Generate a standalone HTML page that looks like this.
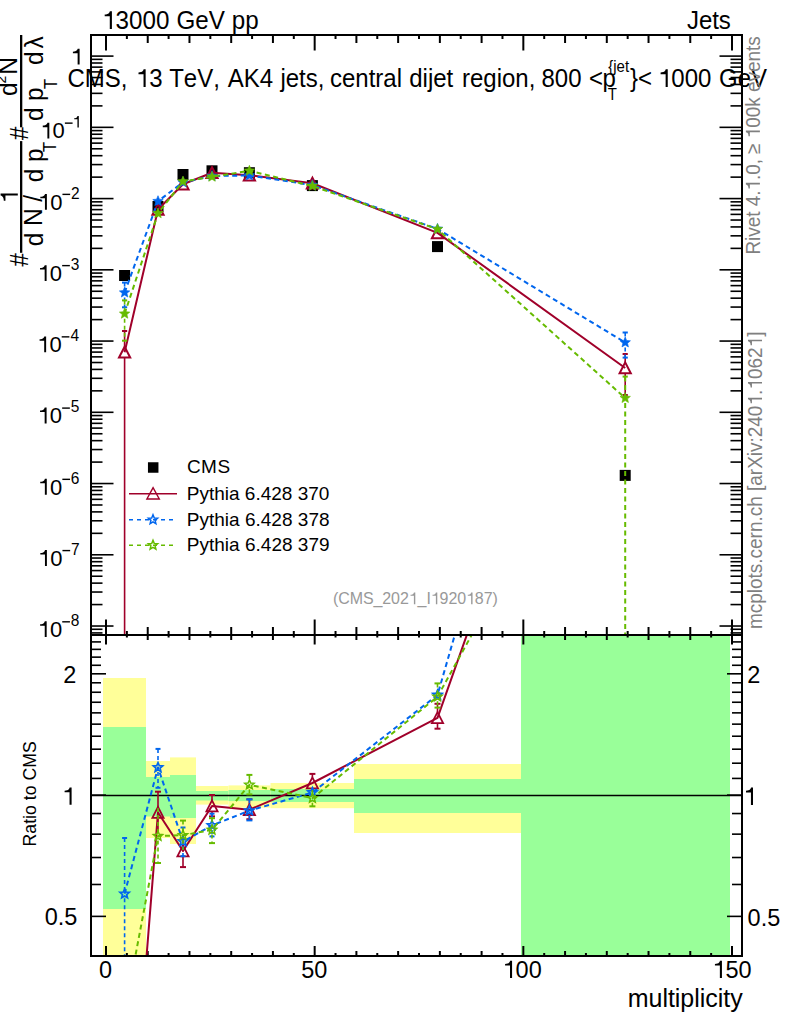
<!DOCTYPE html>
<html><head><meta charset="utf-8"><title>plot</title>
<style>html,body{margin:0;padding:0;background:#fff;width:786px;height:1024px;overflow:hidden}</style>
</head><body>
<svg width="786" height="1024" viewBox="0 0 786 1024" style="position:absolute;left:0;top:0;font-family:'Liberation Sans',sans-serif;font-kerning:none">
<defs><clipPath id="cm"><rect x="91" y="35" width="651" height="600"/></clipPath>
<clipPath id="cr"><rect x="91" y="635" width="651" height="321"/></clipPath></defs>
<rect x="103.00" y="678.00" width="43.00" height="278.00" fill="#ffff99"/>
<rect x="103.00" y="727.00" width="43.00" height="182.00" fill="#99ff99"/>
<rect x="146.00" y="761.00" width="24.00" height="77.00" fill="#ffff99"/>
<rect x="146.00" y="777.00" width="24.00" height="39.50" fill="#99ff99"/>
<rect x="170.00" y="757.40" width="26.00" height="86.60" fill="#ffff99"/>
<rect x="170.00" y="775.00" width="26.00" height="43.00" fill="#99ff99"/>
<rect x="196.00" y="786.00" width="32.50" height="18.60" fill="#ffff99"/>
<rect x="196.00" y="791.00" width="32.50" height="9.50" fill="#99ff99"/>
<rect x="228.50" y="785.40" width="42.00" height="22.30" fill="#ffff99"/>
<rect x="228.50" y="790.00" width="42.00" height="11.10" fill="#99ff99"/>
<rect x="270.50" y="783.00" width="83.50" height="25.20" fill="#ffff99"/>
<rect x="270.50" y="789.00" width="83.50" height="13.00" fill="#99ff99"/>
<rect x="354.00" y="764.00" width="167.00" height="69.00" fill="#ffff99"/>
<rect x="354.00" y="779.00" width="167.00" height="34.00" fill="#99ff99"/>
<rect x="521.00" y="635.00" width="209.00" height="321.00" fill="#ffff99"/>
<rect x="521.00" y="635.00" width="209.00" height="321.00" fill="#99ff99"/>
<line x1="91.00" y1="795.50" x2="742.00" y2="795.50" stroke="#000" stroke-width="1.60"/>
<line x1="106.00" y1="35.00" x2="106.00" y2="50.50" stroke="#000" stroke-width="2.00"/>
<line x1="106.00" y1="635.00" x2="106.00" y2="619.50" stroke="#000" stroke-width="2.00"/>
<line x1="106.00" y1="635.00" x2="106.00" y2="644.50" stroke="#000" stroke-width="2.00"/>
<line x1="106.00" y1="956.00" x2="106.00" y2="946.00" stroke="#000" stroke-width="2.00"/>
<line x1="126.87" y1="35.00" x2="126.87" y2="39.00" stroke="#000" stroke-width="2.00"/>
<line x1="126.87" y1="635.00" x2="126.87" y2="631.00" stroke="#000" stroke-width="2.00"/>
<line x1="126.87" y1="635.00" x2="126.87" y2="637.50" stroke="#000" stroke-width="2.00"/>
<line x1="126.87" y1="956.00" x2="126.87" y2="953.00" stroke="#000" stroke-width="2.00"/>
<line x1="147.73" y1="35.00" x2="147.73" y2="43.00" stroke="#000" stroke-width="2.00"/>
<line x1="147.73" y1="635.00" x2="147.73" y2="627.00" stroke="#000" stroke-width="2.00"/>
<line x1="147.73" y1="635.00" x2="147.73" y2="640.00" stroke="#000" stroke-width="2.00"/>
<line x1="147.73" y1="956.00" x2="147.73" y2="951.00" stroke="#000" stroke-width="2.00"/>
<line x1="168.60" y1="35.00" x2="168.60" y2="39.00" stroke="#000" stroke-width="2.00"/>
<line x1="168.60" y1="635.00" x2="168.60" y2="631.00" stroke="#000" stroke-width="2.00"/>
<line x1="168.60" y1="635.00" x2="168.60" y2="637.50" stroke="#000" stroke-width="2.00"/>
<line x1="168.60" y1="956.00" x2="168.60" y2="953.00" stroke="#000" stroke-width="2.00"/>
<line x1="189.47" y1="35.00" x2="189.47" y2="43.00" stroke="#000" stroke-width="2.00"/>
<line x1="189.47" y1="635.00" x2="189.47" y2="627.00" stroke="#000" stroke-width="2.00"/>
<line x1="189.47" y1="635.00" x2="189.47" y2="640.00" stroke="#000" stroke-width="2.00"/>
<line x1="189.47" y1="956.00" x2="189.47" y2="951.00" stroke="#000" stroke-width="2.00"/>
<line x1="210.33" y1="35.00" x2="210.33" y2="39.00" stroke="#000" stroke-width="2.00"/>
<line x1="210.33" y1="635.00" x2="210.33" y2="631.00" stroke="#000" stroke-width="2.00"/>
<line x1="210.33" y1="635.00" x2="210.33" y2="637.50" stroke="#000" stroke-width="2.00"/>
<line x1="210.33" y1="956.00" x2="210.33" y2="953.00" stroke="#000" stroke-width="2.00"/>
<line x1="231.20" y1="35.00" x2="231.20" y2="43.00" stroke="#000" stroke-width="2.00"/>
<line x1="231.20" y1="635.00" x2="231.20" y2="627.00" stroke="#000" stroke-width="2.00"/>
<line x1="231.20" y1="635.00" x2="231.20" y2="640.00" stroke="#000" stroke-width="2.00"/>
<line x1="231.20" y1="956.00" x2="231.20" y2="951.00" stroke="#000" stroke-width="2.00"/>
<line x1="252.07" y1="35.00" x2="252.07" y2="39.00" stroke="#000" stroke-width="2.00"/>
<line x1="252.07" y1="635.00" x2="252.07" y2="631.00" stroke="#000" stroke-width="2.00"/>
<line x1="252.07" y1="635.00" x2="252.07" y2="637.50" stroke="#000" stroke-width="2.00"/>
<line x1="252.07" y1="956.00" x2="252.07" y2="953.00" stroke="#000" stroke-width="2.00"/>
<line x1="272.93" y1="35.00" x2="272.93" y2="43.00" stroke="#000" stroke-width="2.00"/>
<line x1="272.93" y1="635.00" x2="272.93" y2="627.00" stroke="#000" stroke-width="2.00"/>
<line x1="272.93" y1="635.00" x2="272.93" y2="640.00" stroke="#000" stroke-width="2.00"/>
<line x1="272.93" y1="956.00" x2="272.93" y2="951.00" stroke="#000" stroke-width="2.00"/>
<line x1="293.80" y1="35.00" x2="293.80" y2="39.00" stroke="#000" stroke-width="2.00"/>
<line x1="293.80" y1="635.00" x2="293.80" y2="631.00" stroke="#000" stroke-width="2.00"/>
<line x1="293.80" y1="635.00" x2="293.80" y2="637.50" stroke="#000" stroke-width="2.00"/>
<line x1="293.80" y1="956.00" x2="293.80" y2="953.00" stroke="#000" stroke-width="2.00"/>
<line x1="314.67" y1="35.00" x2="314.67" y2="50.50" stroke="#000" stroke-width="2.00"/>
<line x1="314.67" y1="635.00" x2="314.67" y2="619.50" stroke="#000" stroke-width="2.00"/>
<line x1="314.67" y1="635.00" x2="314.67" y2="644.50" stroke="#000" stroke-width="2.00"/>
<line x1="314.67" y1="956.00" x2="314.67" y2="946.00" stroke="#000" stroke-width="2.00"/>
<line x1="335.53" y1="35.00" x2="335.53" y2="39.00" stroke="#000" stroke-width="2.00"/>
<line x1="335.53" y1="635.00" x2="335.53" y2="631.00" stroke="#000" stroke-width="2.00"/>
<line x1="335.53" y1="635.00" x2="335.53" y2="637.50" stroke="#000" stroke-width="2.00"/>
<line x1="335.53" y1="956.00" x2="335.53" y2="953.00" stroke="#000" stroke-width="2.00"/>
<line x1="356.40" y1="35.00" x2="356.40" y2="43.00" stroke="#000" stroke-width="2.00"/>
<line x1="356.40" y1="635.00" x2="356.40" y2="627.00" stroke="#000" stroke-width="2.00"/>
<line x1="356.40" y1="635.00" x2="356.40" y2="640.00" stroke="#000" stroke-width="2.00"/>
<line x1="356.40" y1="956.00" x2="356.40" y2="951.00" stroke="#000" stroke-width="2.00"/>
<line x1="377.27" y1="35.00" x2="377.27" y2="39.00" stroke="#000" stroke-width="2.00"/>
<line x1="377.27" y1="635.00" x2="377.27" y2="631.00" stroke="#000" stroke-width="2.00"/>
<line x1="377.27" y1="635.00" x2="377.27" y2="637.50" stroke="#000" stroke-width="2.00"/>
<line x1="377.27" y1="956.00" x2="377.27" y2="953.00" stroke="#000" stroke-width="2.00"/>
<line x1="398.13" y1="35.00" x2="398.13" y2="43.00" stroke="#000" stroke-width="2.00"/>
<line x1="398.13" y1="635.00" x2="398.13" y2="627.00" stroke="#000" stroke-width="2.00"/>
<line x1="398.13" y1="635.00" x2="398.13" y2="640.00" stroke="#000" stroke-width="2.00"/>
<line x1="398.13" y1="956.00" x2="398.13" y2="951.00" stroke="#000" stroke-width="2.00"/>
<line x1="419.00" y1="35.00" x2="419.00" y2="39.00" stroke="#000" stroke-width="2.00"/>
<line x1="419.00" y1="635.00" x2="419.00" y2="631.00" stroke="#000" stroke-width="2.00"/>
<line x1="419.00" y1="635.00" x2="419.00" y2="637.50" stroke="#000" stroke-width="2.00"/>
<line x1="419.00" y1="956.00" x2="419.00" y2="953.00" stroke="#000" stroke-width="2.00"/>
<line x1="439.87" y1="35.00" x2="439.87" y2="43.00" stroke="#000" stroke-width="2.00"/>
<line x1="439.87" y1="635.00" x2="439.87" y2="627.00" stroke="#000" stroke-width="2.00"/>
<line x1="439.87" y1="635.00" x2="439.87" y2="640.00" stroke="#000" stroke-width="2.00"/>
<line x1="439.87" y1="956.00" x2="439.87" y2="951.00" stroke="#000" stroke-width="2.00"/>
<line x1="460.73" y1="35.00" x2="460.73" y2="39.00" stroke="#000" stroke-width="2.00"/>
<line x1="460.73" y1="635.00" x2="460.73" y2="631.00" stroke="#000" stroke-width="2.00"/>
<line x1="460.73" y1="635.00" x2="460.73" y2="637.50" stroke="#000" stroke-width="2.00"/>
<line x1="460.73" y1="956.00" x2="460.73" y2="953.00" stroke="#000" stroke-width="2.00"/>
<line x1="481.60" y1="35.00" x2="481.60" y2="43.00" stroke="#000" stroke-width="2.00"/>
<line x1="481.60" y1="635.00" x2="481.60" y2="627.00" stroke="#000" stroke-width="2.00"/>
<line x1="481.60" y1="635.00" x2="481.60" y2="640.00" stroke="#000" stroke-width="2.00"/>
<line x1="481.60" y1="956.00" x2="481.60" y2="951.00" stroke="#000" stroke-width="2.00"/>
<line x1="502.47" y1="35.00" x2="502.47" y2="39.00" stroke="#000" stroke-width="2.00"/>
<line x1="502.47" y1="635.00" x2="502.47" y2="631.00" stroke="#000" stroke-width="2.00"/>
<line x1="502.47" y1="635.00" x2="502.47" y2="637.50" stroke="#000" stroke-width="2.00"/>
<line x1="502.47" y1="956.00" x2="502.47" y2="953.00" stroke="#000" stroke-width="2.00"/>
<line x1="523.33" y1="35.00" x2="523.33" y2="50.50" stroke="#000" stroke-width="2.00"/>
<line x1="523.33" y1="635.00" x2="523.33" y2="619.50" stroke="#000" stroke-width="2.00"/>
<line x1="523.33" y1="635.00" x2="523.33" y2="644.50" stroke="#000" stroke-width="2.00"/>
<line x1="523.33" y1="956.00" x2="523.33" y2="946.00" stroke="#000" stroke-width="2.00"/>
<line x1="544.20" y1="35.00" x2="544.20" y2="39.00" stroke="#000" stroke-width="2.00"/>
<line x1="544.20" y1="635.00" x2="544.20" y2="631.00" stroke="#000" stroke-width="2.00"/>
<line x1="544.20" y1="635.00" x2="544.20" y2="637.50" stroke="#000" stroke-width="2.00"/>
<line x1="544.20" y1="956.00" x2="544.20" y2="953.00" stroke="#000" stroke-width="2.00"/>
<line x1="565.07" y1="35.00" x2="565.07" y2="43.00" stroke="#000" stroke-width="2.00"/>
<line x1="565.07" y1="635.00" x2="565.07" y2="627.00" stroke="#000" stroke-width="2.00"/>
<line x1="565.07" y1="635.00" x2="565.07" y2="640.00" stroke="#000" stroke-width="2.00"/>
<line x1="565.07" y1="956.00" x2="565.07" y2="951.00" stroke="#000" stroke-width="2.00"/>
<line x1="585.93" y1="35.00" x2="585.93" y2="39.00" stroke="#000" stroke-width="2.00"/>
<line x1="585.93" y1="635.00" x2="585.93" y2="631.00" stroke="#000" stroke-width="2.00"/>
<line x1="585.93" y1="635.00" x2="585.93" y2="637.50" stroke="#000" stroke-width="2.00"/>
<line x1="585.93" y1="956.00" x2="585.93" y2="953.00" stroke="#000" stroke-width="2.00"/>
<line x1="606.80" y1="35.00" x2="606.80" y2="43.00" stroke="#000" stroke-width="2.00"/>
<line x1="606.80" y1="635.00" x2="606.80" y2="627.00" stroke="#000" stroke-width="2.00"/>
<line x1="606.80" y1="635.00" x2="606.80" y2="640.00" stroke="#000" stroke-width="2.00"/>
<line x1="606.80" y1="956.00" x2="606.80" y2="951.00" stroke="#000" stroke-width="2.00"/>
<line x1="627.67" y1="35.00" x2="627.67" y2="39.00" stroke="#000" stroke-width="2.00"/>
<line x1="627.67" y1="635.00" x2="627.67" y2="631.00" stroke="#000" stroke-width="2.00"/>
<line x1="627.67" y1="635.00" x2="627.67" y2="637.50" stroke="#000" stroke-width="2.00"/>
<line x1="627.67" y1="956.00" x2="627.67" y2="953.00" stroke="#000" stroke-width="2.00"/>
<line x1="648.53" y1="35.00" x2="648.53" y2="43.00" stroke="#000" stroke-width="2.00"/>
<line x1="648.53" y1="635.00" x2="648.53" y2="627.00" stroke="#000" stroke-width="2.00"/>
<line x1="648.53" y1="635.00" x2="648.53" y2="640.00" stroke="#000" stroke-width="2.00"/>
<line x1="648.53" y1="956.00" x2="648.53" y2="951.00" stroke="#000" stroke-width="2.00"/>
<line x1="669.40" y1="35.00" x2="669.40" y2="39.00" stroke="#000" stroke-width="2.00"/>
<line x1="669.40" y1="635.00" x2="669.40" y2="631.00" stroke="#000" stroke-width="2.00"/>
<line x1="669.40" y1="635.00" x2="669.40" y2="637.50" stroke="#000" stroke-width="2.00"/>
<line x1="669.40" y1="956.00" x2="669.40" y2="953.00" stroke="#000" stroke-width="2.00"/>
<line x1="690.27" y1="35.00" x2="690.27" y2="43.00" stroke="#000" stroke-width="2.00"/>
<line x1="690.27" y1="635.00" x2="690.27" y2="627.00" stroke="#000" stroke-width="2.00"/>
<line x1="690.27" y1="635.00" x2="690.27" y2="640.00" stroke="#000" stroke-width="2.00"/>
<line x1="690.27" y1="956.00" x2="690.27" y2="951.00" stroke="#000" stroke-width="2.00"/>
<line x1="711.13" y1="35.00" x2="711.13" y2="39.00" stroke="#000" stroke-width="2.00"/>
<line x1="711.13" y1="635.00" x2="711.13" y2="631.00" stroke="#000" stroke-width="2.00"/>
<line x1="711.13" y1="635.00" x2="711.13" y2="637.50" stroke="#000" stroke-width="2.00"/>
<line x1="711.13" y1="956.00" x2="711.13" y2="953.00" stroke="#000" stroke-width="2.00"/>
<line x1="732.00" y1="35.00" x2="732.00" y2="50.50" stroke="#000" stroke-width="2.00"/>
<line x1="732.00" y1="635.00" x2="732.00" y2="619.50" stroke="#000" stroke-width="2.00"/>
<line x1="732.00" y1="635.00" x2="732.00" y2="644.50" stroke="#000" stroke-width="2.00"/>
<line x1="732.00" y1="956.00" x2="732.00" y2="946.00" stroke="#000" stroke-width="2.00"/>
<line x1="91.00" y1="56.10" x2="113.50" y2="56.10" stroke="#000" stroke-width="1.60"/>
<line x1="742.00" y1="56.10" x2="719.50" y2="56.10" stroke="#000" stroke-width="1.60"/>
<line x1="91.00" y1="127.34" x2="113.50" y2="127.34" stroke="#000" stroke-width="1.60"/>
<line x1="742.00" y1="127.34" x2="719.50" y2="127.34" stroke="#000" stroke-width="1.60"/>
<line x1="91.00" y1="105.89" x2="102.50" y2="105.89" stroke="#000" stroke-width="1.60"/>
<line x1="742.00" y1="105.89" x2="730.50" y2="105.89" stroke="#000" stroke-width="1.60"/>
<line x1="91.00" y1="93.35" x2="102.50" y2="93.35" stroke="#000" stroke-width="1.60"/>
<line x1="742.00" y1="93.35" x2="730.50" y2="93.35" stroke="#000" stroke-width="1.60"/>
<line x1="91.00" y1="84.45" x2="102.50" y2="84.45" stroke="#000" stroke-width="1.60"/>
<line x1="742.00" y1="84.45" x2="730.50" y2="84.45" stroke="#000" stroke-width="1.60"/>
<line x1="91.00" y1="77.55" x2="102.50" y2="77.55" stroke="#000" stroke-width="1.60"/>
<line x1="742.00" y1="77.55" x2="730.50" y2="77.55" stroke="#000" stroke-width="1.60"/>
<line x1="91.00" y1="71.90" x2="102.50" y2="71.90" stroke="#000" stroke-width="1.60"/>
<line x1="742.00" y1="71.90" x2="730.50" y2="71.90" stroke="#000" stroke-width="1.60"/>
<line x1="91.00" y1="67.14" x2="102.50" y2="67.14" stroke="#000" stroke-width="1.60"/>
<line x1="742.00" y1="67.14" x2="730.50" y2="67.14" stroke="#000" stroke-width="1.60"/>
<line x1="91.00" y1="63.00" x2="102.50" y2="63.00" stroke="#000" stroke-width="1.60"/>
<line x1="742.00" y1="63.00" x2="730.50" y2="63.00" stroke="#000" stroke-width="1.60"/>
<line x1="91.00" y1="59.36" x2="102.50" y2="59.36" stroke="#000" stroke-width="1.60"/>
<line x1="742.00" y1="59.36" x2="730.50" y2="59.36" stroke="#000" stroke-width="1.60"/>
<line x1="91.00" y1="198.58" x2="113.50" y2="198.58" stroke="#000" stroke-width="1.60"/>
<line x1="742.00" y1="198.58" x2="719.50" y2="198.58" stroke="#000" stroke-width="1.60"/>
<line x1="91.00" y1="177.13" x2="102.50" y2="177.13" stroke="#000" stroke-width="1.60"/>
<line x1="742.00" y1="177.13" x2="730.50" y2="177.13" stroke="#000" stroke-width="1.60"/>
<line x1="91.00" y1="164.59" x2="102.50" y2="164.59" stroke="#000" stroke-width="1.60"/>
<line x1="742.00" y1="164.59" x2="730.50" y2="164.59" stroke="#000" stroke-width="1.60"/>
<line x1="91.00" y1="155.69" x2="102.50" y2="155.69" stroke="#000" stroke-width="1.60"/>
<line x1="742.00" y1="155.69" x2="730.50" y2="155.69" stroke="#000" stroke-width="1.60"/>
<line x1="91.00" y1="148.79" x2="102.50" y2="148.79" stroke="#000" stroke-width="1.60"/>
<line x1="742.00" y1="148.79" x2="730.50" y2="148.79" stroke="#000" stroke-width="1.60"/>
<line x1="91.00" y1="143.14" x2="102.50" y2="143.14" stroke="#000" stroke-width="1.60"/>
<line x1="742.00" y1="143.14" x2="730.50" y2="143.14" stroke="#000" stroke-width="1.60"/>
<line x1="91.00" y1="138.38" x2="102.50" y2="138.38" stroke="#000" stroke-width="1.60"/>
<line x1="742.00" y1="138.38" x2="730.50" y2="138.38" stroke="#000" stroke-width="1.60"/>
<line x1="91.00" y1="134.24" x2="102.50" y2="134.24" stroke="#000" stroke-width="1.60"/>
<line x1="742.00" y1="134.24" x2="730.50" y2="134.24" stroke="#000" stroke-width="1.60"/>
<line x1="91.00" y1="130.60" x2="102.50" y2="130.60" stroke="#000" stroke-width="1.60"/>
<line x1="742.00" y1="130.60" x2="730.50" y2="130.60" stroke="#000" stroke-width="1.60"/>
<line x1="91.00" y1="269.82" x2="113.50" y2="269.82" stroke="#000" stroke-width="1.60"/>
<line x1="742.00" y1="269.82" x2="719.50" y2="269.82" stroke="#000" stroke-width="1.60"/>
<line x1="91.00" y1="248.37" x2="102.50" y2="248.37" stroke="#000" stroke-width="1.60"/>
<line x1="742.00" y1="248.37" x2="730.50" y2="248.37" stroke="#000" stroke-width="1.60"/>
<line x1="91.00" y1="235.83" x2="102.50" y2="235.83" stroke="#000" stroke-width="1.60"/>
<line x1="742.00" y1="235.83" x2="730.50" y2="235.83" stroke="#000" stroke-width="1.60"/>
<line x1="91.00" y1="226.93" x2="102.50" y2="226.93" stroke="#000" stroke-width="1.60"/>
<line x1="742.00" y1="226.93" x2="730.50" y2="226.93" stroke="#000" stroke-width="1.60"/>
<line x1="91.00" y1="220.03" x2="102.50" y2="220.03" stroke="#000" stroke-width="1.60"/>
<line x1="742.00" y1="220.03" x2="730.50" y2="220.03" stroke="#000" stroke-width="1.60"/>
<line x1="91.00" y1="214.38" x2="102.50" y2="214.38" stroke="#000" stroke-width="1.60"/>
<line x1="742.00" y1="214.38" x2="730.50" y2="214.38" stroke="#000" stroke-width="1.60"/>
<line x1="91.00" y1="209.62" x2="102.50" y2="209.62" stroke="#000" stroke-width="1.60"/>
<line x1="742.00" y1="209.62" x2="730.50" y2="209.62" stroke="#000" stroke-width="1.60"/>
<line x1="91.00" y1="205.48" x2="102.50" y2="205.48" stroke="#000" stroke-width="1.60"/>
<line x1="742.00" y1="205.48" x2="730.50" y2="205.48" stroke="#000" stroke-width="1.60"/>
<line x1="91.00" y1="201.84" x2="102.50" y2="201.84" stroke="#000" stroke-width="1.60"/>
<line x1="742.00" y1="201.84" x2="730.50" y2="201.84" stroke="#000" stroke-width="1.60"/>
<line x1="91.00" y1="341.06" x2="113.50" y2="341.06" stroke="#000" stroke-width="1.60"/>
<line x1="742.00" y1="341.06" x2="719.50" y2="341.06" stroke="#000" stroke-width="1.60"/>
<line x1="91.00" y1="319.61" x2="102.50" y2="319.61" stroke="#000" stroke-width="1.60"/>
<line x1="742.00" y1="319.61" x2="730.50" y2="319.61" stroke="#000" stroke-width="1.60"/>
<line x1="91.00" y1="307.07" x2="102.50" y2="307.07" stroke="#000" stroke-width="1.60"/>
<line x1="742.00" y1="307.07" x2="730.50" y2="307.07" stroke="#000" stroke-width="1.60"/>
<line x1="91.00" y1="298.17" x2="102.50" y2="298.17" stroke="#000" stroke-width="1.60"/>
<line x1="742.00" y1="298.17" x2="730.50" y2="298.17" stroke="#000" stroke-width="1.60"/>
<line x1="91.00" y1="291.27" x2="102.50" y2="291.27" stroke="#000" stroke-width="1.60"/>
<line x1="742.00" y1="291.27" x2="730.50" y2="291.27" stroke="#000" stroke-width="1.60"/>
<line x1="91.00" y1="285.62" x2="102.50" y2="285.62" stroke="#000" stroke-width="1.60"/>
<line x1="742.00" y1="285.62" x2="730.50" y2="285.62" stroke="#000" stroke-width="1.60"/>
<line x1="91.00" y1="280.86" x2="102.50" y2="280.86" stroke="#000" stroke-width="1.60"/>
<line x1="742.00" y1="280.86" x2="730.50" y2="280.86" stroke="#000" stroke-width="1.60"/>
<line x1="91.00" y1="276.72" x2="102.50" y2="276.72" stroke="#000" stroke-width="1.60"/>
<line x1="742.00" y1="276.72" x2="730.50" y2="276.72" stroke="#000" stroke-width="1.60"/>
<line x1="91.00" y1="273.08" x2="102.50" y2="273.08" stroke="#000" stroke-width="1.60"/>
<line x1="742.00" y1="273.08" x2="730.50" y2="273.08" stroke="#000" stroke-width="1.60"/>
<line x1="91.00" y1="412.30" x2="113.50" y2="412.30" stroke="#000" stroke-width="1.60"/>
<line x1="742.00" y1="412.30" x2="719.50" y2="412.30" stroke="#000" stroke-width="1.60"/>
<line x1="91.00" y1="390.85" x2="102.50" y2="390.85" stroke="#000" stroke-width="1.60"/>
<line x1="742.00" y1="390.85" x2="730.50" y2="390.85" stroke="#000" stroke-width="1.60"/>
<line x1="91.00" y1="378.31" x2="102.50" y2="378.31" stroke="#000" stroke-width="1.60"/>
<line x1="742.00" y1="378.31" x2="730.50" y2="378.31" stroke="#000" stroke-width="1.60"/>
<line x1="91.00" y1="369.41" x2="102.50" y2="369.41" stroke="#000" stroke-width="1.60"/>
<line x1="742.00" y1="369.41" x2="730.50" y2="369.41" stroke="#000" stroke-width="1.60"/>
<line x1="91.00" y1="362.51" x2="102.50" y2="362.51" stroke="#000" stroke-width="1.60"/>
<line x1="742.00" y1="362.51" x2="730.50" y2="362.51" stroke="#000" stroke-width="1.60"/>
<line x1="91.00" y1="356.86" x2="102.50" y2="356.86" stroke="#000" stroke-width="1.60"/>
<line x1="742.00" y1="356.86" x2="730.50" y2="356.86" stroke="#000" stroke-width="1.60"/>
<line x1="91.00" y1="352.10" x2="102.50" y2="352.10" stroke="#000" stroke-width="1.60"/>
<line x1="742.00" y1="352.10" x2="730.50" y2="352.10" stroke="#000" stroke-width="1.60"/>
<line x1="91.00" y1="347.96" x2="102.50" y2="347.96" stroke="#000" stroke-width="1.60"/>
<line x1="742.00" y1="347.96" x2="730.50" y2="347.96" stroke="#000" stroke-width="1.60"/>
<line x1="91.00" y1="344.32" x2="102.50" y2="344.32" stroke="#000" stroke-width="1.60"/>
<line x1="742.00" y1="344.32" x2="730.50" y2="344.32" stroke="#000" stroke-width="1.60"/>
<line x1="91.00" y1="483.54" x2="113.50" y2="483.54" stroke="#000" stroke-width="1.60"/>
<line x1="742.00" y1="483.54" x2="719.50" y2="483.54" stroke="#000" stroke-width="1.60"/>
<line x1="91.00" y1="462.09" x2="102.50" y2="462.09" stroke="#000" stroke-width="1.60"/>
<line x1="742.00" y1="462.09" x2="730.50" y2="462.09" stroke="#000" stroke-width="1.60"/>
<line x1="91.00" y1="449.55" x2="102.50" y2="449.55" stroke="#000" stroke-width="1.60"/>
<line x1="742.00" y1="449.55" x2="730.50" y2="449.55" stroke="#000" stroke-width="1.60"/>
<line x1="91.00" y1="440.65" x2="102.50" y2="440.65" stroke="#000" stroke-width="1.60"/>
<line x1="742.00" y1="440.65" x2="730.50" y2="440.65" stroke="#000" stroke-width="1.60"/>
<line x1="91.00" y1="433.75" x2="102.50" y2="433.75" stroke="#000" stroke-width="1.60"/>
<line x1="742.00" y1="433.75" x2="730.50" y2="433.75" stroke="#000" stroke-width="1.60"/>
<line x1="91.00" y1="428.10" x2="102.50" y2="428.10" stroke="#000" stroke-width="1.60"/>
<line x1="742.00" y1="428.10" x2="730.50" y2="428.10" stroke="#000" stroke-width="1.60"/>
<line x1="91.00" y1="423.34" x2="102.50" y2="423.34" stroke="#000" stroke-width="1.60"/>
<line x1="742.00" y1="423.34" x2="730.50" y2="423.34" stroke="#000" stroke-width="1.60"/>
<line x1="91.00" y1="419.20" x2="102.50" y2="419.20" stroke="#000" stroke-width="1.60"/>
<line x1="742.00" y1="419.20" x2="730.50" y2="419.20" stroke="#000" stroke-width="1.60"/>
<line x1="91.00" y1="415.56" x2="102.50" y2="415.56" stroke="#000" stroke-width="1.60"/>
<line x1="742.00" y1="415.56" x2="730.50" y2="415.56" stroke="#000" stroke-width="1.60"/>
<line x1="91.00" y1="554.78" x2="113.50" y2="554.78" stroke="#000" stroke-width="1.60"/>
<line x1="742.00" y1="554.78" x2="719.50" y2="554.78" stroke="#000" stroke-width="1.60"/>
<line x1="91.00" y1="533.33" x2="102.50" y2="533.33" stroke="#000" stroke-width="1.60"/>
<line x1="742.00" y1="533.33" x2="730.50" y2="533.33" stroke="#000" stroke-width="1.60"/>
<line x1="91.00" y1="520.79" x2="102.50" y2="520.79" stroke="#000" stroke-width="1.60"/>
<line x1="742.00" y1="520.79" x2="730.50" y2="520.79" stroke="#000" stroke-width="1.60"/>
<line x1="91.00" y1="511.89" x2="102.50" y2="511.89" stroke="#000" stroke-width="1.60"/>
<line x1="742.00" y1="511.89" x2="730.50" y2="511.89" stroke="#000" stroke-width="1.60"/>
<line x1="91.00" y1="504.99" x2="102.50" y2="504.99" stroke="#000" stroke-width="1.60"/>
<line x1="742.00" y1="504.99" x2="730.50" y2="504.99" stroke="#000" stroke-width="1.60"/>
<line x1="91.00" y1="499.34" x2="102.50" y2="499.34" stroke="#000" stroke-width="1.60"/>
<line x1="742.00" y1="499.34" x2="730.50" y2="499.34" stroke="#000" stroke-width="1.60"/>
<line x1="91.00" y1="494.58" x2="102.50" y2="494.58" stroke="#000" stroke-width="1.60"/>
<line x1="742.00" y1="494.58" x2="730.50" y2="494.58" stroke="#000" stroke-width="1.60"/>
<line x1="91.00" y1="490.44" x2="102.50" y2="490.44" stroke="#000" stroke-width="1.60"/>
<line x1="742.00" y1="490.44" x2="730.50" y2="490.44" stroke="#000" stroke-width="1.60"/>
<line x1="91.00" y1="486.80" x2="102.50" y2="486.80" stroke="#000" stroke-width="1.60"/>
<line x1="742.00" y1="486.80" x2="730.50" y2="486.80" stroke="#000" stroke-width="1.60"/>
<line x1="91.00" y1="626.02" x2="113.50" y2="626.02" stroke="#000" stroke-width="1.60"/>
<line x1="742.00" y1="626.02" x2="719.50" y2="626.02" stroke="#000" stroke-width="1.60"/>
<line x1="91.00" y1="604.57" x2="102.50" y2="604.57" stroke="#000" stroke-width="1.60"/>
<line x1="742.00" y1="604.57" x2="730.50" y2="604.57" stroke="#000" stroke-width="1.60"/>
<line x1="91.00" y1="592.03" x2="102.50" y2="592.03" stroke="#000" stroke-width="1.60"/>
<line x1="742.00" y1="592.03" x2="730.50" y2="592.03" stroke="#000" stroke-width="1.60"/>
<line x1="91.00" y1="583.13" x2="102.50" y2="583.13" stroke="#000" stroke-width="1.60"/>
<line x1="742.00" y1="583.13" x2="730.50" y2="583.13" stroke="#000" stroke-width="1.60"/>
<line x1="91.00" y1="576.23" x2="102.50" y2="576.23" stroke="#000" stroke-width="1.60"/>
<line x1="742.00" y1="576.23" x2="730.50" y2="576.23" stroke="#000" stroke-width="1.60"/>
<line x1="91.00" y1="570.58" x2="102.50" y2="570.58" stroke="#000" stroke-width="1.60"/>
<line x1="742.00" y1="570.58" x2="730.50" y2="570.58" stroke="#000" stroke-width="1.60"/>
<line x1="91.00" y1="565.82" x2="102.50" y2="565.82" stroke="#000" stroke-width="1.60"/>
<line x1="742.00" y1="565.82" x2="730.50" y2="565.82" stroke="#000" stroke-width="1.60"/>
<line x1="91.00" y1="561.68" x2="102.50" y2="561.68" stroke="#000" stroke-width="1.60"/>
<line x1="742.00" y1="561.68" x2="730.50" y2="561.68" stroke="#000" stroke-width="1.60"/>
<line x1="91.00" y1="558.04" x2="102.50" y2="558.04" stroke="#000" stroke-width="1.60"/>
<line x1="742.00" y1="558.04" x2="730.50" y2="558.04" stroke="#000" stroke-width="1.60"/>
<line x1="91.00" y1="632.92" x2="102.50" y2="632.92" stroke="#000" stroke-width="1.60"/>
<line x1="742.00" y1="632.92" x2="730.50" y2="632.92" stroke="#000" stroke-width="1.60"/>
<line x1="91.00" y1="629.28" x2="102.50" y2="629.28" stroke="#000" stroke-width="1.60"/>
<line x1="742.00" y1="629.28" x2="730.50" y2="629.28" stroke="#000" stroke-width="1.60"/>
<line x1="91.00" y1="916.38" x2="106.00" y2="916.38" stroke="#000" stroke-width="1.60"/>
<line x1="742.00" y1="916.38" x2="727.00" y2="916.38" stroke="#000" stroke-width="1.60"/>
<line x1="91.00" y1="884.48" x2="101.00" y2="884.48" stroke="#000" stroke-width="1.60"/>
<line x1="742.00" y1="884.48" x2="732.00" y2="884.48" stroke="#000" stroke-width="1.60"/>
<line x1="91.00" y1="857.51" x2="101.00" y2="857.51" stroke="#000" stroke-width="1.60"/>
<line x1="742.00" y1="857.51" x2="732.00" y2="857.51" stroke="#000" stroke-width="1.60"/>
<line x1="91.00" y1="834.15" x2="101.00" y2="834.15" stroke="#000" stroke-width="1.60"/>
<line x1="742.00" y1="834.15" x2="732.00" y2="834.15" stroke="#000" stroke-width="1.60"/>
<line x1="91.00" y1="813.54" x2="101.00" y2="813.54" stroke="#000" stroke-width="1.60"/>
<line x1="742.00" y1="813.54" x2="732.00" y2="813.54" stroke="#000" stroke-width="1.60"/>
<line x1="91.00" y1="795.10" x2="106.00" y2="795.10" stroke="#000" stroke-width="1.60"/>
<line x1="742.00" y1="795.10" x2="727.00" y2="795.10" stroke="#000" stroke-width="1.60"/>
<line x1="91.00" y1="778.42" x2="101.00" y2="778.42" stroke="#000" stroke-width="1.60"/>
<line x1="742.00" y1="778.42" x2="732.00" y2="778.42" stroke="#000" stroke-width="1.60"/>
<line x1="91.00" y1="763.20" x2="101.00" y2="763.20" stroke="#000" stroke-width="1.60"/>
<line x1="742.00" y1="763.20" x2="732.00" y2="763.20" stroke="#000" stroke-width="1.60"/>
<line x1="91.00" y1="749.19" x2="101.00" y2="749.19" stroke="#000" stroke-width="1.60"/>
<line x1="742.00" y1="749.19" x2="732.00" y2="749.19" stroke="#000" stroke-width="1.60"/>
<line x1="91.00" y1="736.23" x2="101.00" y2="736.23" stroke="#000" stroke-width="1.60"/>
<line x1="742.00" y1="736.23" x2="732.00" y2="736.23" stroke="#000" stroke-width="1.60"/>
<line x1="91.00" y1="724.15" x2="101.00" y2="724.15" stroke="#000" stroke-width="1.60"/>
<line x1="742.00" y1="724.15" x2="732.00" y2="724.15" stroke="#000" stroke-width="1.60"/>
<line x1="91.00" y1="712.86" x2="101.00" y2="712.86" stroke="#000" stroke-width="1.60"/>
<line x1="742.00" y1="712.86" x2="732.00" y2="712.86" stroke="#000" stroke-width="1.60"/>
<line x1="91.00" y1="702.25" x2="101.00" y2="702.25" stroke="#000" stroke-width="1.60"/>
<line x1="742.00" y1="702.25" x2="732.00" y2="702.25" stroke="#000" stroke-width="1.60"/>
<line x1="91.00" y1="692.25" x2="101.00" y2="692.25" stroke="#000" stroke-width="1.60"/>
<line x1="742.00" y1="692.25" x2="732.00" y2="692.25" stroke="#000" stroke-width="1.60"/>
<line x1="91.00" y1="682.79" x2="101.00" y2="682.79" stroke="#000" stroke-width="1.60"/>
<line x1="742.00" y1="682.79" x2="732.00" y2="682.79" stroke="#000" stroke-width="1.60"/>
<line x1="91.00" y1="673.82" x2="106.00" y2="673.82" stroke="#000" stroke-width="1.60"/>
<line x1="742.00" y1="673.82" x2="727.00" y2="673.82" stroke="#000" stroke-width="1.60"/>
<line x1="91.00" y1="665.28" x2="101.00" y2="665.28" stroke="#000" stroke-width="1.60"/>
<line x1="742.00" y1="665.28" x2="732.00" y2="665.28" stroke="#000" stroke-width="1.60"/>
<line x1="91.00" y1="657.14" x2="101.00" y2="657.14" stroke="#000" stroke-width="1.60"/>
<line x1="742.00" y1="657.14" x2="732.00" y2="657.14" stroke="#000" stroke-width="1.60"/>
<line x1="91.00" y1="649.36" x2="101.00" y2="649.36" stroke="#000" stroke-width="1.60"/>
<line x1="742.00" y1="649.36" x2="732.00" y2="649.36" stroke="#000" stroke-width="1.60"/>
<line x1="91.00" y1="641.91" x2="101.00" y2="641.91" stroke="#000" stroke-width="1.60"/>
<line x1="742.00" y1="641.91" x2="732.00" y2="641.91" stroke="#000" stroke-width="1.60"/>
<g clip-path="url(#cm)">
<rect x="119.10" y="270.00" width="11.00" height="11.00" fill="#000"/>
<rect x="152.50" y="201.00" width="11.00" height="11.00" fill="#000"/>
<rect x="177.50" y="169.00" width="11.00" height="11.00" fill="#000"/>
<rect x="206.50" y="165.30" width="11.00" height="11.00" fill="#000"/>
<rect x="243.90" y="167.20" width="11.00" height="11.00" fill="#000"/>
<rect x="306.90" y="180.10" width="11.00" height="11.00" fill="#000"/>
<rect x="432.00" y="241.10" width="11.00" height="11.00" fill="#000"/>
<rect x="619.70" y="469.90" width="11.00" height="11.00" fill="#000"/>
<polyline points="124.60,352.30 158.00,209.50 183.00,184.20 212.00,172.70 249.40,175.20 312.40,183.30 437.50,232.90 625.20,368.00" fill="none" stroke="#a0002a" stroke-width="2.00" stroke-linejoin="round"/>
<line x1="124.60" y1="331.00" x2="124.60" y2="346.80" stroke="#a0002a" stroke-width="1.60"/>
<line x1="124.60" y1="357.80" x2="124.60" y2="640.00" stroke="#a0002a" stroke-width="1.60"/>
<line x1="122.00" y1="331.00" x2="127.20" y2="331.00" stroke="#a0002a" stroke-width="2.00"/>
<line x1="625.20" y1="354.00" x2="625.20" y2="362.50" stroke="#a0002a" stroke-width="1.60"/>
<line x1="625.20" y1="373.50" x2="625.20" y2="395.00" stroke="#a0002a" stroke-width="1.60"/>
<line x1="622.60" y1="354.00" x2="627.80" y2="354.00" stroke="#a0002a" stroke-width="2.00"/>
<line x1="622.60" y1="395.00" x2="627.80" y2="395.00" stroke="#a0002a" stroke-width="2.00"/>
<polygon points="124.60,346.70 119.00,357.60 130.20,357.60" fill="none" stroke="#a0002a" stroke-width="2.00" stroke-linejoin="miter"/>
<polygon points="158.00,203.90 152.40,214.80 163.60,214.80" fill="none" stroke="#a0002a" stroke-width="2.00" stroke-linejoin="miter"/>
<polygon points="183.00,178.60 177.40,189.50 188.60,189.50" fill="none" stroke="#a0002a" stroke-width="2.00" stroke-linejoin="miter"/>
<polygon points="212.00,167.10 206.40,178.00 217.60,178.00" fill="none" stroke="#a0002a" stroke-width="2.00" stroke-linejoin="miter"/>
<polygon points="249.40,169.60 243.80,180.50 255.00,180.50" fill="none" stroke="#a0002a" stroke-width="2.00" stroke-linejoin="miter"/>
<polygon points="312.40,177.70 306.80,188.60 318.00,188.60" fill="none" stroke="#a0002a" stroke-width="2.00" stroke-linejoin="miter"/>
<polygon points="437.50,227.30 431.90,238.20 443.10,238.20" fill="none" stroke="#a0002a" stroke-width="2.00" stroke-linejoin="miter"/>
<polygon points="625.20,362.40 619.60,373.30 630.80,373.30" fill="none" stroke="#a0002a" stroke-width="2.00" stroke-linejoin="miter"/>
<polyline points="124.60,292.60 158.00,201.20 183.00,182.40 212.00,176.00 249.40,175.50 312.40,185.10 437.50,228.90 625.20,342.50" fill="none" stroke="#0066ee" stroke-width="2.00" stroke-dasharray="5,3.5" stroke-linejoin="round"/>
<line x1="124.60" y1="282.60" x2="124.60" y2="287.60" stroke="#0066ee" stroke-width="1.60" stroke-dasharray="4,3"/>
<line x1="124.60" y1="297.60" x2="124.60" y2="307.30" stroke="#0066ee" stroke-width="1.60" stroke-dasharray="4,3"/>
<line x1="122.00" y1="282.60" x2="127.20" y2="282.60" stroke="#0066ee" stroke-width="2.00"/>
<line x1="122.00" y1="307.30" x2="127.20" y2="307.30" stroke="#0066ee" stroke-width="2.00"/>
<line x1="625.20" y1="332.50" x2="625.20" y2="337.50" stroke="#0066ee" stroke-width="1.60" stroke-dasharray="4,3"/>
<line x1="625.20" y1="347.50" x2="625.20" y2="357.60" stroke="#0066ee" stroke-width="1.60" stroke-dasharray="4,3"/>
<line x1="622.60" y1="332.50" x2="627.80" y2="332.50" stroke="#0066ee" stroke-width="2.00"/>
<line x1="622.60" y1="357.60" x2="627.80" y2="357.60" stroke="#0066ee" stroke-width="2.00"/>
<polygon points="124.60,287.10 126.05,290.60 129.83,290.90 126.95,293.36 127.83,297.05 124.60,295.08 121.37,297.05 122.25,293.36 119.37,290.90 123.15,290.60" fill="#0066ee" stroke="#0066ee" stroke-width="0.60" stroke-linejoin="round"/>
<polygon points="158.00,195.70 159.45,199.20 163.23,199.50 160.35,201.96 161.23,205.65 158.00,203.67 154.77,205.65 155.65,201.96 152.77,199.50 156.55,199.20" fill="#0066ee" stroke="#0066ee" stroke-width="0.60" stroke-linejoin="round"/>
<polygon points="183.00,176.90 184.45,180.40 188.23,180.70 185.35,183.16 186.23,186.85 183.00,184.88 179.77,186.85 180.65,183.16 177.77,180.70 181.55,180.40" fill="#0066ee" stroke="#0066ee" stroke-width="0.60" stroke-linejoin="round"/>
<polygon points="212.00,170.50 213.45,174.00 217.23,174.30 214.35,176.76 215.23,180.45 212.00,178.47 208.77,180.45 209.65,176.76 206.77,174.30 210.55,174.00" fill="#0066ee" stroke="#0066ee" stroke-width="0.60" stroke-linejoin="round"/>
<polygon points="249.40,170.00 250.85,173.50 254.63,173.80 251.75,176.26 252.63,179.95 249.40,177.97 246.17,179.95 247.05,176.26 244.17,173.80 247.95,173.50" fill="#0066ee" stroke="#0066ee" stroke-width="0.60" stroke-linejoin="round"/>
<polygon points="312.40,179.60 313.85,183.10 317.63,183.40 314.75,185.86 315.63,189.55 312.40,187.57 309.17,189.55 310.05,185.86 307.17,183.40 310.95,183.10" fill="#0066ee" stroke="#0066ee" stroke-width="0.60" stroke-linejoin="round"/>
<polygon points="437.50,223.40 438.95,226.90 442.73,227.20 439.85,229.66 440.73,233.35 437.50,231.38 434.27,233.35 435.15,229.66 432.27,227.20 436.05,226.90" fill="#0066ee" stroke="#0066ee" stroke-width="0.60" stroke-linejoin="round"/>
<polygon points="625.20,337.00 626.65,340.50 630.43,340.80 627.55,343.26 628.43,346.95 625.20,344.98 621.97,346.95 622.85,343.26 619.97,340.80 623.75,340.50" fill="#0066ee" stroke="#0066ee" stroke-width="0.60" stroke-linejoin="round"/>
<polyline points="124.60,313.80 158.00,213.30 183.00,181.50 212.00,176.80 249.40,170.80 312.40,186.00 437.50,229.20 625.20,398.10" fill="none" stroke="#66bb00" stroke-width="2.00" stroke-dasharray="5,3.5" stroke-linejoin="round"/>
<line x1="124.60" y1="300.40" x2="124.60" y2="308.80" stroke="#66bb00" stroke-width="1.60" stroke-dasharray="4,3"/>
<line x1="124.60" y1="318.80" x2="124.60" y2="340.70" stroke="#66bb00" stroke-width="1.60" stroke-dasharray="4,3"/>
<line x1="122.00" y1="300.40" x2="127.20" y2="300.40" stroke="#66bb00" stroke-width="2.00"/>
<line x1="122.00" y1="340.70" x2="127.20" y2="340.70" stroke="#66bb00" stroke-width="2.00"/>
<line x1="625.20" y1="376.60" x2="625.20" y2="393.10" stroke="#66bb00" stroke-width="2.00" stroke-dasharray="5,3.5"/>
<line x1="625.20" y1="403.10" x2="625.20" y2="640.00" stroke="#66bb00" stroke-width="2.00" stroke-dasharray="5,3.5"/>
<line x1="622.60" y1="376.60" x2="627.80" y2="376.60" stroke="#66bb00" stroke-width="2.00"/>
<polygon points="124.60,308.30 126.05,311.80 129.83,312.10 126.95,314.56 127.83,318.25 124.60,316.28 121.37,318.25 122.25,314.56 119.37,312.10 123.15,311.80" fill="#66bb00" stroke="#66bb00" stroke-width="0.60" stroke-linejoin="round"/>
<polygon points="158.00,207.80 159.45,211.30 163.23,211.60 160.35,214.06 161.23,217.75 158.00,215.78 154.77,217.75 155.65,214.06 152.77,211.60 156.55,211.30" fill="#66bb00" stroke="#66bb00" stroke-width="0.60" stroke-linejoin="round"/>
<polygon points="183.00,176.00 184.45,179.50 188.23,179.80 185.35,182.26 186.23,185.95 183.00,183.97 179.77,185.95 180.65,182.26 177.77,179.80 181.55,179.50" fill="#66bb00" stroke="#66bb00" stroke-width="0.60" stroke-linejoin="round"/>
<polygon points="212.00,171.30 213.45,174.80 217.23,175.10 214.35,177.56 215.23,181.25 212.00,179.28 208.77,181.25 209.65,177.56 206.77,175.10 210.55,174.80" fill="#66bb00" stroke="#66bb00" stroke-width="0.60" stroke-linejoin="round"/>
<polygon points="249.40,165.30 250.85,168.80 254.63,169.10 251.75,171.56 252.63,175.25 249.40,173.28 246.17,175.25 247.05,171.56 244.17,169.10 247.95,168.80" fill="#66bb00" stroke="#66bb00" stroke-width="0.60" stroke-linejoin="round"/>
<polygon points="312.40,180.50 313.85,184.00 317.63,184.30 314.75,186.76 315.63,190.45 312.40,188.47 309.17,190.45 310.05,186.76 307.17,184.30 310.95,184.00" fill="#66bb00" stroke="#66bb00" stroke-width="0.60" stroke-linejoin="round"/>
<polygon points="437.50,223.70 438.95,227.20 442.73,227.50 439.85,229.96 440.73,233.65 437.50,231.67 434.27,233.65 435.15,229.96 432.27,227.50 436.05,227.20" fill="#66bb00" stroke="#66bb00" stroke-width="0.60" stroke-linejoin="round"/>
<polygon points="625.20,392.60 626.65,396.10 630.43,396.40 627.55,398.86 628.43,402.55 625.20,400.58 621.97,402.55 622.85,398.86 619.97,396.40 623.75,396.10" fill="#66bb00" stroke="#66bb00" stroke-width="0.60" stroke-linejoin="round"/>
</g>
<g clip-path="url(#cr)">
<polyline points="124.60,1232.00 158.00,812.50 183.00,851.00 212.00,806.00 249.40,809.70 312.40,783.00 437.50,717.80 625.20,187.70" fill="none" stroke="#a0002a" stroke-width="2.00" stroke-linejoin="round"/>
<line x1="158.00" y1="791.70" x2="158.00" y2="807.00" stroke="#a0002a" stroke-width="1.60"/>
<line x1="158.00" y1="818.00" x2="158.00" y2="833.00" stroke="#a0002a" stroke-width="1.60"/>
<line x1="155.00" y1="791.70" x2="161.00" y2="791.70" stroke="#a0002a" stroke-width="2.00"/>
<line x1="183.00" y1="835.00" x2="183.00" y2="845.50" stroke="#a0002a" stroke-width="1.60"/>
<line x1="183.00" y1="856.50" x2="183.00" y2="867.10" stroke="#a0002a" stroke-width="1.60"/>
<line x1="180.00" y1="867.10" x2="186.00" y2="867.10" stroke="#a0002a" stroke-width="2.00"/>
<line x1="212.00" y1="795.00" x2="212.00" y2="800.50" stroke="#a0002a" stroke-width="1.60"/>
<line x1="212.00" y1="811.50" x2="212.00" y2="816.40" stroke="#a0002a" stroke-width="1.60"/>
<line x1="209.00" y1="795.00" x2="215.00" y2="795.00" stroke="#a0002a" stroke-width="2.00"/>
<line x1="209.00" y1="816.40" x2="215.00" y2="816.40" stroke="#a0002a" stroke-width="2.00"/>
<line x1="249.40" y1="799.30" x2="249.40" y2="804.20" stroke="#a0002a" stroke-width="1.60"/>
<line x1="249.40" y1="815.20" x2="249.40" y2="819.20" stroke="#a0002a" stroke-width="1.60"/>
<line x1="246.40" y1="799.30" x2="252.40" y2="799.30" stroke="#a0002a" stroke-width="2.00"/>
<line x1="246.40" y1="819.20" x2="252.40" y2="819.20" stroke="#a0002a" stroke-width="2.00"/>
<line x1="312.40" y1="773.90" x2="312.40" y2="777.50" stroke="#a0002a" stroke-width="1.60"/>
<line x1="312.40" y1="788.50" x2="312.40" y2="792.00" stroke="#a0002a" stroke-width="1.60"/>
<line x1="309.40" y1="773.90" x2="315.40" y2="773.90" stroke="#a0002a" stroke-width="2.00"/>
<line x1="437.50" y1="703.80" x2="437.50" y2="712.30" stroke="#a0002a" stroke-width="1.60"/>
<line x1="437.50" y1="723.30" x2="437.50" y2="728.70" stroke="#a0002a" stroke-width="1.60"/>
<line x1="434.50" y1="703.80" x2="440.50" y2="703.80" stroke="#a0002a" stroke-width="2.00"/>
<line x1="434.50" y1="728.70" x2="440.50" y2="728.70" stroke="#a0002a" stroke-width="2.00"/>
<polygon points="158.00,806.90 152.40,817.80 163.60,817.80" fill="none" stroke="#a0002a" stroke-width="1.80" stroke-linejoin="miter"/>
<polygon points="183.00,845.40 177.40,856.30 188.60,856.30" fill="none" stroke="#a0002a" stroke-width="1.80" stroke-linejoin="miter"/>
<polygon points="212.00,800.40 206.40,811.30 217.60,811.30" fill="none" stroke="#a0002a" stroke-width="1.80" stroke-linejoin="miter"/>
<polygon points="249.40,804.10 243.80,815.00 255.00,815.00" fill="none" stroke="#a0002a" stroke-width="1.80" stroke-linejoin="miter"/>
<polygon points="312.40,777.40 306.80,788.30 318.00,788.30" fill="none" stroke="#a0002a" stroke-width="1.80" stroke-linejoin="miter"/>
<polygon points="437.50,712.20 431.90,723.10 443.10,723.10" fill="none" stroke="#a0002a" stroke-width="1.80" stroke-linejoin="miter"/>
<polyline points="124.60,893.80 158.00,767.50 183.00,841.50 212.00,825.40 249.40,810.60 312.40,792.50 437.50,695.00 625.20,43.50" fill="none" stroke="#0066ee" stroke-width="2.00" stroke-dasharray="5,3.5" stroke-linejoin="round"/>
<line x1="124.60" y1="838.00" x2="124.60" y2="889.30" stroke="#0066ee" stroke-width="1.60" stroke-dasharray="4,3"/>
<line x1="124.60" y1="898.30" x2="124.60" y2="960.00" stroke="#0066ee" stroke-width="1.60" stroke-dasharray="4,3"/>
<line x1="122.10" y1="838.00" x2="127.10" y2="838.00" stroke="#0066ee" stroke-width="2.00"/>
<line x1="158.00" y1="748.90" x2="158.00" y2="763.00" stroke="#0066ee" stroke-width="1.60" stroke-dasharray="4,3"/>
<line x1="158.00" y1="772.00" x2="158.00" y2="787.80" stroke="#0066ee" stroke-width="1.60" stroke-dasharray="4,3"/>
<line x1="155.50" y1="748.90" x2="160.50" y2="748.90" stroke="#0066ee" stroke-width="2.00"/>
<line x1="155.50" y1="787.80" x2="160.50" y2="787.80" stroke="#0066ee" stroke-width="2.00"/>
<line x1="183.00" y1="827.50" x2="183.00" y2="837.00" stroke="#0066ee" stroke-width="1.60" stroke-dasharray="4,3"/>
<line x1="183.00" y1="846.00" x2="183.00" y2="856.20" stroke="#0066ee" stroke-width="1.60" stroke-dasharray="4,3"/>
<line x1="180.50" y1="827.50" x2="185.50" y2="827.50" stroke="#0066ee" stroke-width="2.00"/>
<line x1="180.50" y1="856.20" x2="185.50" y2="856.20" stroke="#0066ee" stroke-width="2.00"/>
<line x1="212.00" y1="813.70" x2="212.00" y2="820.90" stroke="#0066ee" stroke-width="1.60" stroke-dasharray="4,3"/>
<line x1="212.00" y1="829.90" x2="212.00" y2="836.40" stroke="#0066ee" stroke-width="1.60" stroke-dasharray="4,3"/>
<line x1="209.50" y1="813.70" x2="214.50" y2="813.70" stroke="#0066ee" stroke-width="2.00"/>
<line x1="209.50" y1="836.40" x2="214.50" y2="836.40" stroke="#0066ee" stroke-width="2.00"/>
<line x1="249.40" y1="799.30" x2="249.40" y2="806.10" stroke="#0066ee" stroke-width="1.60" stroke-dasharray="4,3"/>
<line x1="249.40" y1="815.10" x2="249.40" y2="820.40" stroke="#0066ee" stroke-width="1.60" stroke-dasharray="4,3"/>
<line x1="246.40" y1="799.30" x2="252.40" y2="799.30" stroke="#0066ee" stroke-width="2.00"/>
<line x1="246.40" y1="820.40" x2="252.40" y2="820.40" stroke="#0066ee" stroke-width="2.00"/>
<polygon points="124.60,888.90 125.90,892.02 129.26,892.29 126.70,894.48 127.48,897.76 124.60,896.00 121.72,897.76 122.50,894.48 119.94,892.29 123.30,892.02" fill="none" stroke="#0066ee" stroke-width="1.70"/>
<polygon points="158.00,762.60 159.30,765.72 162.66,765.99 160.10,768.18 160.88,771.46 158.00,769.71 155.12,771.46 155.90,768.18 153.34,765.99 156.70,765.72" fill="none" stroke="#0066ee" stroke-width="1.70"/>
<polygon points="183.00,836.60 184.30,839.72 187.66,839.99 185.10,842.18 185.88,845.46 183.00,843.71 180.12,845.46 180.90,842.18 178.34,839.99 181.70,839.72" fill="none" stroke="#0066ee" stroke-width="1.70"/>
<polygon points="212.00,820.50 213.30,823.62 216.66,823.89 214.10,826.08 214.88,829.36 212.00,827.61 209.12,829.36 209.90,826.08 207.34,823.89 210.70,823.62" fill="none" stroke="#0066ee" stroke-width="1.70"/>
<polygon points="249.40,805.70 250.70,808.82 254.06,809.09 251.50,811.28 252.28,814.56 249.40,812.81 246.52,814.56 247.30,811.28 244.74,809.09 248.10,808.82" fill="none" stroke="#0066ee" stroke-width="1.70"/>
<polygon points="312.40,787.60 313.70,790.72 317.06,790.99 314.50,793.18 315.28,796.46 312.40,794.71 309.52,796.46 310.30,793.18 307.74,790.99 311.10,790.72" fill="none" stroke="#0066ee" stroke-width="1.70"/>
<polygon points="437.50,690.10 438.80,693.22 442.16,693.49 439.60,695.68 440.38,698.96 437.50,697.21 434.62,698.96 435.40,695.68 432.84,693.49 436.20,693.22" fill="none" stroke="#0066ee" stroke-width="1.70"/>
<polyline points="124.60,1013.00 158.00,836.10 183.00,835.20 212.00,829.90 249.40,784.80 312.40,798.20 437.50,696.70 625.20,358.00" fill="none" stroke="#66bb00" stroke-width="2.00" stroke-dasharray="5,3.5" stroke-linejoin="round"/>
<line x1="158.00" y1="808.00" x2="158.00" y2="831.60" stroke="#66bb00" stroke-width="1.60" stroke-dasharray="4,3"/>
<line x1="158.00" y1="840.60" x2="158.00" y2="863.00" stroke="#66bb00" stroke-width="1.60" stroke-dasharray="4,3"/>
<line x1="155.00" y1="863.00" x2="161.00" y2="863.00" stroke="#66bb00" stroke-width="2.00"/>
<line x1="183.00" y1="820.60" x2="183.00" y2="830.70" stroke="#66bb00" stroke-width="1.60" stroke-dasharray="4,3"/>
<line x1="183.00" y1="839.70" x2="183.00" y2="850.00" stroke="#66bb00" stroke-width="1.60" stroke-dasharray="4,3"/>
<line x1="180.00" y1="820.60" x2="186.00" y2="820.60" stroke="#66bb00" stroke-width="2.00"/>
<line x1="212.00" y1="818.20" x2="212.00" y2="825.40" stroke="#66bb00" stroke-width="1.60" stroke-dasharray="4,3"/>
<line x1="212.00" y1="834.40" x2="212.00" y2="843.10" stroke="#66bb00" stroke-width="1.60" stroke-dasharray="4,3"/>
<line x1="209.00" y1="818.20" x2="215.00" y2="818.20" stroke="#66bb00" stroke-width="2.00"/>
<line x1="209.00" y1="843.10" x2="215.00" y2="843.10" stroke="#66bb00" stroke-width="2.00"/>
<line x1="249.40" y1="774.90" x2="249.40" y2="780.30" stroke="#66bb00" stroke-width="1.60" stroke-dasharray="4,3"/>
<line x1="249.40" y1="789.30" x2="249.40" y2="794.40" stroke="#66bb00" stroke-width="1.60" stroke-dasharray="4,3"/>
<line x1="246.40" y1="774.90" x2="252.40" y2="774.90" stroke="#66bb00" stroke-width="2.00"/>
<line x1="246.40" y1="794.40" x2="252.40" y2="794.40" stroke="#66bb00" stroke-width="2.00"/>
<line x1="312.40" y1="790.00" x2="312.40" y2="793.70" stroke="#66bb00" stroke-width="1.60" stroke-dasharray="4,3"/>
<line x1="312.40" y1="802.70" x2="312.40" y2="806.30" stroke="#66bb00" stroke-width="1.60" stroke-dasharray="4,3"/>
<line x1="309.40" y1="806.30" x2="315.40" y2="806.30" stroke="#66bb00" stroke-width="2.00"/>
<line x1="437.50" y1="683.40" x2="437.50" y2="692.20" stroke="#66bb00" stroke-width="1.60" stroke-dasharray="4,3"/>
<line x1="437.50" y1="701.20" x2="437.50" y2="707.60" stroke="#66bb00" stroke-width="1.60" stroke-dasharray="4,3"/>
<line x1="434.50" y1="683.40" x2="440.50" y2="683.40" stroke="#66bb00" stroke-width="2.00"/>
<line x1="434.50" y1="707.60" x2="440.50" y2="707.60" stroke="#66bb00" stroke-width="2.00"/>
<polygon points="158.00,831.20 159.30,834.32 162.66,834.59 160.10,836.78 160.88,840.06 158.00,838.31 155.12,840.06 155.90,836.78 153.34,834.59 156.70,834.32" fill="none" stroke="#66bb00" stroke-width="1.50"/>
<polygon points="183.00,830.30 184.30,833.42 187.66,833.69 185.10,835.88 185.88,839.16 183.00,837.41 180.12,839.16 180.90,835.88 178.34,833.69 181.70,833.42" fill="none" stroke="#66bb00" stroke-width="1.50"/>
<polygon points="212.00,825.00 213.30,828.12 216.66,828.39 214.10,830.58 214.88,833.86 212.00,832.11 209.12,833.86 209.90,830.58 207.34,828.39 210.70,828.12" fill="none" stroke="#66bb00" stroke-width="1.50"/>
<polygon points="249.40,779.90 250.70,783.02 254.06,783.29 251.50,785.48 252.28,788.76 249.40,787.00 246.52,788.76 247.30,785.48 244.74,783.29 248.10,783.02" fill="none" stroke="#66bb00" stroke-width="1.50"/>
<polygon points="312.40,793.30 313.70,796.42 317.06,796.69 314.50,798.88 315.28,802.16 312.40,800.41 309.52,802.16 310.30,798.88 307.74,796.69 311.10,796.42" fill="none" stroke="#66bb00" stroke-width="1.50"/>
<polygon points="437.50,691.80 438.80,694.92 442.16,695.19 439.60,697.38 440.38,700.66 437.50,698.91 434.62,700.66 435.40,697.38 432.84,695.19 436.20,694.92" fill="none" stroke="#66bb00" stroke-width="1.50"/>
</g>
<rect x="91" y="35" width="651" height="600" fill="none" stroke="#000" stroke-width="2"/>
<rect x="91" y="635" width="651" height="321" fill="none" stroke="#000" stroke-width="2"/>
<g transform="matrix(1,0,0,1.0500,0,-1.450)"><path transform="translate(102.06,29.00) scale(0.0242,-0.0242)" d="M 407 0 L 319 0 L 319 504 L 109 504 L 109 572 C 190 572 250 590 285 630 C 305 655 318 680 322 703 L 407 703 Z" fill="#000"/><text x="115.58" y="29.00" font-size="24.20" fill="#000" letter-spacing="0.061">3000 GeV pp</text></g>
<g transform="matrix(1,0,0,1.0500,0,-1.450)"><text x="686.92" y="29.00" font-size="24.00" fill="#000" letter-spacing="-0.024">Jets</text></g>
<g transform="matrix(1,0,0,1.0500,0,-4.350)"><text x="67.48" y="87.00" font-size="24.00" fill="#000">CMS,</text></g>
<g transform="matrix(1,0,0,1.0500,0,-4.350)"><path transform="translate(135.88,87.00) scale(0.0240,-0.0240)" d="M 407 0 L 319 0 L 319 504 L 109 504 L 109 572 C 190 572 250 590 285 630 C 305 655 318 680 322 703 L 407 703 Z" fill="#000"/><text x="149.23" y="87.00" font-size="24.00" fill="#000">3</text></g>
<g transform="matrix(1,0,0,1.0500,0,-4.350)"><text x="169.16" y="87.00" font-size="24.00" fill="#000">TeV,</text></g>
<g transform="matrix(1,0,0,1.0500,0,-4.350)"><text x="227.65" y="87.00" font-size="24.00" fill="#000">AK4</text></g>
<g transform="matrix(1,0,0,1.0500,0,-4.350)"><text x="280.39" y="87.00" font-size="24.00" fill="#000">jets,</text></g>
<g transform="matrix(1,0,0,1.0500,0,-4.350)"><text x="329.98" y="87.00" font-size="24.00" fill="#000">central</text></g>
<g transform="matrix(1,0,0,1.0500,0,-4.350)"><text x="409.29" y="87.00" font-size="24.00" fill="#000">dijet</text></g>
<g transform="matrix(1,0,0,1.0500,0,-4.350)"><text x="462.01" y="87.00" font-size="24.00" fill="#000">region,</text></g>
<g transform="matrix(1,0,0,1.0500,0,-4.350)"><text x="541.46" y="87.00" font-size="24.00" fill="#000">800</text></g>
<g transform="matrix(1,0,0,1.0500,0,-4.350)"><text x="589.02" y="87.00" font-size="24.00" fill="#000">&lt;</text></g>
<g transform="matrix(1,0,0,1.0500,0,-4.350)"><text x="602.45" y="87.00" font-size="24.00" fill="#000">p</text></g>
<g transform="matrix(1,0,0,1.0500,0,-4.350)"><text x="630.00" y="87.00" font-size="24.00" fill="#000">}&lt;</text></g>
<g transform="matrix(1,0,0,1.0500,0,-4.350)"><path transform="translate(657.98,87.00) scale(0.0240,-0.0240)" d="M 407 0 L 319 0 L 319 504 L 109 504 L 109 572 C 190 572 250 590 285 630 C 305 655 318 680 322 703 L 407 703 Z" fill="#000"/><text x="671.33" y="87.00" font-size="24.00" fill="#000">000</text></g>
<g transform="matrix(1,0,0,1.0500,0,-4.350)"><text x="718.99" y="87.00" font-size="24.00" fill="#000">GeV</text></g>
<g transform="matrix(1,0,0,1.0500,0,-3.580)"><text x="608.25" y="71.60" font-size="15.00" fill="#000">{jet</text></g>
<g transform="matrix(1,0,0,1.0500,0,-4.990)"><text x="607.66" y="99.80" font-size="15.00" fill="#000">T</text></g>
<path transform="translate(70.45,64.50) scale(0.0225,-0.0225)" d="M 407 0 L 319 0 L 319 504 L 109 504 L 109 572 C 190 572 250 590 285 630 C 305 655 318 680 322 703 L 407 703 Z" fill="#000"/>
<g transform="matrix(1,0,0,1.0400,0,-5.098)"><path transform="translate(72.49,127.44) scale(0.0155,-0.0155)" d="M 407 0 L 319 0 L 319 504 L 109 504 L 109 572 C 190 572 250 590 285 630 C 305 655 318 680 322 703 L 407 703 Z" fill="#000"/></g>
<rect x="64.88" y="122.44" width="7.70" height="1.40" fill="#000"/>
<g transform="matrix(1,0,0,1.0200,0,-2.769)"><path transform="translate(40.37,138.44) scale(0.0220,-0.0220)" d="M 407 0 L 319 0 L 319 504 L 109 504 L 109 572 C 190 572 250 590 285 630 C 305 655 318 680 322 703 L 407 703 Z" fill="#000"/><text x="52.61" y="138.44" font-size="22.00" fill="#000">0</text></g>
<g transform="matrix(1,0,0,1.0400,0,-7.947)"><text x="70.96" y="198.68" font-size="15.50" fill="#000">2</text></g>
<rect x="62.44" y="193.68" width="7.70" height="1.40" fill="#000"/>
<g transform="matrix(1,0,0,1.0200,0,-4.194)"><path transform="translate(37.93,209.68) scale(0.0220,-0.0220)" d="M 407 0 L 319 0 L 319 504 L 109 504 L 109 572 C 190 572 250 590 285 630 C 305 655 318 680 322 703 L 407 703 Z" fill="#000"/><text x="50.16" y="209.68" font-size="22.00" fill="#000">0</text></g>
<g transform="matrix(1,0,0,1.0400,0,-10.797)"><text x="70.86" y="269.92" font-size="15.50" fill="#000">3</text></g>
<rect x="62.15" y="264.92" width="7.70" height="1.40" fill="#000"/>
<g transform="matrix(1,0,0,1.0200,0,-5.618)"><path transform="translate(37.64,280.92) scale(0.0220,-0.0220)" d="M 407 0 L 319 0 L 319 504 L 109 504 L 109 572 C 190 572 250 590 285 630 C 305 655 318 680 322 703 L 407 703 Z" fill="#000"/><text x="49.88" y="280.92" font-size="22.00" fill="#000">0</text></g>
<g transform="matrix(1,0,0,1.0400,0,-13.646)"><text x="70.63" y="341.16" font-size="15.50" fill="#000">4</text></g>
<rect x="61.69" y="336.16" width="7.70" height="1.40" fill="#000"/>
<g transform="matrix(1,0,0,1.0200,0,-7.043)"><path transform="translate(37.18,352.16) scale(0.0220,-0.0220)" d="M 407 0 L 319 0 L 319 504 L 109 504 L 109 572 C 190 572 250 590 285 630 C 305 655 318 680 322 703 L 407 703 Z" fill="#000"/><text x="49.41" y="352.16" font-size="22.00" fill="#000">0</text></g>
<g transform="matrix(1,0,0,1.0400,0,-16.496)"><text x="70.83" y="412.40" font-size="15.50" fill="#000">5</text></g>
<rect x="62.15" y="407.40" width="7.70" height="1.40" fill="#000"/>
<g transform="matrix(1,0,0,1.0200,0,-8.468)"><path transform="translate(37.64,423.40) scale(0.0220,-0.0220)" d="M 407 0 L 319 0 L 319 504 L 109 504 L 109 572 C 190 572 250 590 285 630 C 305 655 318 680 322 703 L 407 703 Z" fill="#000"/><text x="49.88" y="423.40" font-size="22.00" fill="#000">0</text></g>
<g transform="matrix(1,0,0,1.0400,0,-19.346)"><text x="70.86" y="483.64" font-size="15.50" fill="#000">6</text></g>
<rect x="62.35" y="478.64" width="7.70" height="1.40" fill="#000"/>
<g transform="matrix(1,0,0,1.0200,0,-9.893)"><path transform="translate(37.84,494.64) scale(0.0220,-0.0220)" d="M 407 0 L 319 0 L 319 504 L 109 504 L 109 572 C 190 572 250 590 285 630 C 305 655 318 680 322 703 L 407 703 Z" fill="#000"/><text x="50.07" y="494.64" font-size="22.00" fill="#000">0</text></g>
<g transform="matrix(1,0,0,1.0400,0,-22.195)"><text x="70.96" y="554.88" font-size="15.50" fill="#000">7</text></g>
<rect x="62.45" y="549.88" width="7.70" height="1.40" fill="#000"/>
<g transform="matrix(1,0,0,1.0200,0,-11.318)"><path transform="translate(37.94,565.88) scale(0.0220,-0.0220)" d="M 407 0 L 319 0 L 319 504 L 109 504 L 109 572 C 190 572 250 590 285 630 C 305 655 318 680 322 703 L 407 703 Z" fill="#000"/><text x="50.18" y="565.88" font-size="22.00" fill="#000">0</text></g>
<g transform="matrix(1,0,0,1.0400,0,-25.045)"><text x="70.85" y="626.12" font-size="15.50" fill="#000">8</text></g>
<rect x="62.23" y="621.12" width="7.70" height="1.40" fill="#000"/>
<g transform="matrix(1,0,0,1.0200,0,-12.742)"><path transform="translate(37.72,637.12) scale(0.0220,-0.0220)" d="M 407 0 L 319 0 L 319 504 L 109 504 L 109 572 C 190 572 250 590 285 630 C 305 655 318 680 322 703 L 407 703 Z" fill="#000"/><text x="49.95" y="637.12" font-size="22.00" fill="#000">0</text></g>
<g transform="matrix(1,0,0,1.0500,0,-34.135)"><text x="63.22" y="682.70" font-size="23.50" fill="#000">2</text></g>
<g transform="matrix(1,0,0,1.0500,0,-40.240)"><path transform="translate(62.04,804.80) scale(0.0235,-0.0235)" d="M 407 0 L 319 0 L 319 504 L 109 504 L 109 572 C 190 572 250 590 285 630 C 305 655 318 680 322 703 L 407 703 Z" fill="#000"/></g>
<g transform="matrix(1,0,0,1.0500,0,-46.275)"><text x="44.68" y="925.50" font-size="23.50" fill="#000">0.5</text></g>
<g transform="matrix(1,0,0,1.0500,0,-34.140)"><text x="747.32" y="682.80" font-size="23.50" fill="#000">2</text></g>
<g transform="matrix(1,0,0,1.0500,0,-40.245)"><path transform="translate(743.44,804.90) scale(0.0235,-0.0235)" d="M 407 0 L 319 0 L 319 504 L 109 504 L 109 572 C 190 572 250 590 285 630 C 305 655 318 680 322 703 L 407 703 Z" fill="#000"/></g>
<g transform="matrix(1,0,0,1.0500,0,-46.290)"><text x="747.58" y="925.80" font-size="23.50" fill="#000">0.5</text></g>
<g transform="matrix(1,0,0,1.0500,0,-48.900)"><text x="99.07" y="978.00" font-size="23.50" fill="#000">0</text></g>
<g transform="matrix(1,0,0,1.0500,0,-48.900)"><text x="301.19" y="978.00" font-size="23.50" fill="#000">50</text></g>
<g transform="matrix(1,0,0,1.0500,0,-48.900)"><path transform="translate(502.51,978.00) scale(0.0235,-0.0235)" d="M 407 0 L 319 0 L 319 504 L 109 504 L 109 572 C 190 572 250 590 285 630 C 305 655 318 680 322 703 L 407 703 Z" fill="#000"/><text x="515.58" y="978.00" font-size="23.50" fill="#000">00</text></g>
<g transform="matrix(1,0,0,1.0500,0,-48.900)"><path transform="translate(712.37,978.00) scale(0.0235,-0.0235)" d="M 407 0 L 319 0 L 319 504 L 109 504 L 109 572 C 190 572 250 590 285 630 C 305 655 318 680 322 703 L 407 703 Z" fill="#000"/><text x="725.44" y="978.00" font-size="23.50" fill="#000">50</text></g>
<g transform="matrix(1,0,0,1.0500,0,-50.335)"><text x="627.74" y="1006.70" font-size="25.00" fill="#000" letter-spacing="-0.026">multiplicity</text></g>
<rect x="147.95" y="462.25" width="10.50" height="10.50" fill="#000"/>
<text x="186.94" y="472.50" font-size="19.00" fill="#000" letter-spacing="0.458">CMS</text>
<line x1="129.00" y1="493.70" x2="177.00" y2="493.70" stroke="#a0002a" stroke-width="1.40"/>
<polygon points="153.1,487.6 146.9,499 159.3,499" fill="none" stroke="#a0002a" stroke-width="1.4"/>
<text x="186.74" y="499.60" font-size="19.00" fill="#000" letter-spacing="0.006">Pythia 6.428 370</text>
<line x1="129.00" y1="519.70" x2="177.00" y2="519.70" stroke="#0066ee" stroke-width="1.40" stroke-dasharray="4,4"/>
<polygon points="153.00,514.80 154.30,517.92 157.66,518.19 155.10,520.38 155.88,523.66 153.00,521.91 150.12,523.66 150.90,520.38 148.34,518.19 151.70,517.92" fill="none" stroke="#0066ee" stroke-width="1.50"/>
<text x="186.74" y="525.80" font-size="19.00" fill="#000" letter-spacing="0.012">Pythia 6.428 378</text>
<line x1="129.00" y1="545.30" x2="177.00" y2="545.30" stroke="#66bb00" stroke-width="1.40" stroke-dasharray="4,4"/>
<polygon points="153.00,540.30 154.30,543.42 157.66,543.69 155.10,545.88 155.88,549.16 153.00,547.41 150.12,549.16 150.90,545.88 148.34,543.69 151.70,543.42" fill="none" stroke="#66bb00" stroke-width="1.50"/>
<text x="186.74" y="551.30" font-size="19.00" fill="#000" letter-spacing="0.016">Pythia 6.428 379</text>
<g transform="matrix(1,0,0,1.0500,0,-30.215)"><text x="333.01" y="604.30" font-size="16.00" fill="#999" letter-spacing="-0.086">(CMS_202</text><path transform="translate(408.79,604.30) scale(0.0160,-0.0160)" d="M 407 0 L 319 0 L 319 504 L 109 504 L 109 572 C 190 572 250 590 285 630 C 305 655 318 680 322 703 L 407 703 Z" fill="#999"/><text x="417.61" y="604.30" font-size="16.00" fill="#999" letter-spacing="-0.086">_I</text><path transform="translate(430.78,604.30) scale(0.0160,-0.0160)" d="M 407 0 L 319 0 L 319 504 L 109 504 L 109 572 C 190 572 250 590 285 630 C 305 655 318 680 322 703 L 407 703 Z" fill="#999"/><text x="439.59" y="604.30" font-size="16.00" fill="#999" letter-spacing="-0.086">920</text><path transform="translate(466.03,604.30) scale(0.0160,-0.0160)" d="M 407 0 L 319 0 L 319 504 L 109 504 L 109 572 C 190 572 250 590 285 630 C 305 655 318 680 322 703 L 407 703 Z" fill="#999"/><text x="474.84" y="604.30" font-size="16.00" fill="#999" letter-spacing="-0.086">87)</text></g>
<g transform="translate(759.90,253.00) rotate(-90)"><g transform="matrix(1,0,0,1.0500,0,-0.000)"><text x="-1.56" y="0.00" font-size="19.00" fill="#808080" letter-spacing="-0.052">Rivet 4.</text><path transform="translate(62.44,0.00) scale(0.0190,-0.0190)" d="M 407 0 L 319 0 L 319 504 L 109 504 L 109 572 C 190 572 250 590 285 630 C 305 655 318 680 322 703 L 407 703 Z" fill="#808080"/><text x="72.95" y="0.00" font-size="19.00" fill="#808080" letter-spacing="-0.052">.0, ≥ </text><path transform="translate(114.75,0.00) scale(0.0190,-0.0190)" d="M 407 0 L 319 0 L 319 504 L 109 504 L 109 572 C 190 572 250 590 285 630 C 305 655 318 680 322 703 L 407 703 Z" fill="#808080"/><text x="125.26" y="0.00" font-size="19.00" fill="#808080" letter-spacing="-0.052">00k events</text></g></g>
<g transform="translate(762.00,627.80) rotate(-90)"><g transform="matrix(1,0,0,1.0500,0,-0.000)"><text x="-1.26" y="0.00" font-size="19.00" fill="#808080" letter-spacing="-0.010">mcplots.cern.ch [arXiv:240</text><path transform="translate(222.36,0.00) scale(0.0190,-0.0190)" d="M 407 0 L 319 0 L 319 504 L 109 504 L 109 572 C 190 572 250 590 285 630 C 305 655 318 680 322 703 L 407 703 Z" fill="#808080"/><text x="232.92" y="0.00" font-size="19.00" fill="#808080" letter-spacing="-0.010">.</text><path transform="translate(238.19,0.00) scale(0.0190,-0.0190)" d="M 407 0 L 319 0 L 319 504 L 109 504 L 109 572 C 190 572 250 590 285 630 C 305 655 318 680 322 703 L 407 703 Z" fill="#808080"/><text x="248.75" y="0.00" font-size="19.00" fill="#808080" letter-spacing="-0.010">062</text><path transform="translate(280.42,0.00) scale(0.0190,-0.0190)" d="M 407 0 L 319 0 L 319 504 L 109 504 L 109 572 C 190 572 250 590 285 630 C 305 655 318 680 322 703 L 407 703 Z" fill="#808080"/><text x="290.98" y="0.00" font-size="19.00" fill="#808080" letter-spacing="-0.010">]</text></g></g>
<g transform="translate(36.10,845.00) rotate(-90)"><g transform="matrix(1,0,0,1.0500,0,-0.000)"><text x="-1.44" y="0.00" font-size="17.60" fill="#000" letter-spacing="0.054">Ratio to CMS</text></g></g>
<g transform="translate(0,275) rotate(-90)"><g transform="matrix(1,0,0,1.0500,0,-1.395)"><text x="8.49" y="27.90" font-size="24.00" fill="#000">#</text></g><rect x="22.2" y="20" width="111.7" height="2.3"/><path transform="translate(71.63,17.80) scale(0.0245,-0.0245)" d="M 407 0 L 319 0 L 319 504 L 109 504 L 109 572 C 190 572 250 590 285 630 C 305 655 318 680 322 703 L 407 703 Z" fill="#000"/><g transform="matrix(1,0,0,1.0500,0,-2.130)"><text x="28.77" y="42.60" font-size="24.50" fill="#000">d</text></g><g transform="matrix(1,0,0,1.0500,0,-2.120)"><text x="49.09" y="42.40" font-size="24.50" fill="#000">N</text></g><g transform="matrix(1,0,0,1.0500,0,-2.120)"><text x="73.20" y="42.40" font-size="24.50" fill="#000">/</text></g><g transform="matrix(1,0,0,1.0500,0,-2.130)"><text x="92.87" y="42.60" font-size="24.50" fill="#000">d</text></g><g transform="matrix(1,0,0,1.0500,0,-2.140)"><text x="112.92" y="42.80" font-size="24.50" fill="#000">p</text></g><g transform="matrix(1,0,0,1.0500,0,-2.805)"><text x="122.82" y="56.10" font-size="17.00" fill="#000">T</text></g><g transform="matrix(1,0,0,1.0500,0,-1.395)"><text x="135.09" y="27.90" font-size="24.00" fill="#000">#</text></g><rect x="147.7" y="20" width="92.3" height="2.3"/><g transform="matrix(1,0,0,1.0500,0,-0.850)"><text x="178.97" y="17.00" font-size="24.50" fill="#000">d</text></g><g transform="matrix(1,0,0,1.0500,0,-0.295)"><text x="191.40" y="5.90" font-size="14.00" fill="#000">2</text></g><g transform="matrix(1,0,0,1.0500,0,-0.845)"><text x="200.19" y="16.90" font-size="24.50" fill="#000">N</text></g><g transform="matrix(1,0,0,1.0500,0,-2.155)"><text x="153.97" y="43.10" font-size="24.50" fill="#000">d</text></g><g transform="matrix(1,0,0,1.0500,0,-2.155)"><text x="173.92" y="43.10" font-size="24.50" fill="#000">p</text></g><g transform="matrix(1,0,0,1.0500,0,-2.845)"><text x="185.82" y="56.90" font-size="17.00" fill="#000">T</text></g><g transform="matrix(1,0,0,1.0500,0,-2.155)"><text x="209.97" y="43.10" font-size="24.50" fill="#000">d</text></g><g transform="matrix(1,0,0,1.0500,0,-2.155)"><text x="226.53" y="43.10" font-size="24.50" fill="#000">λ</text></g></g>
</svg>
</body></html>
